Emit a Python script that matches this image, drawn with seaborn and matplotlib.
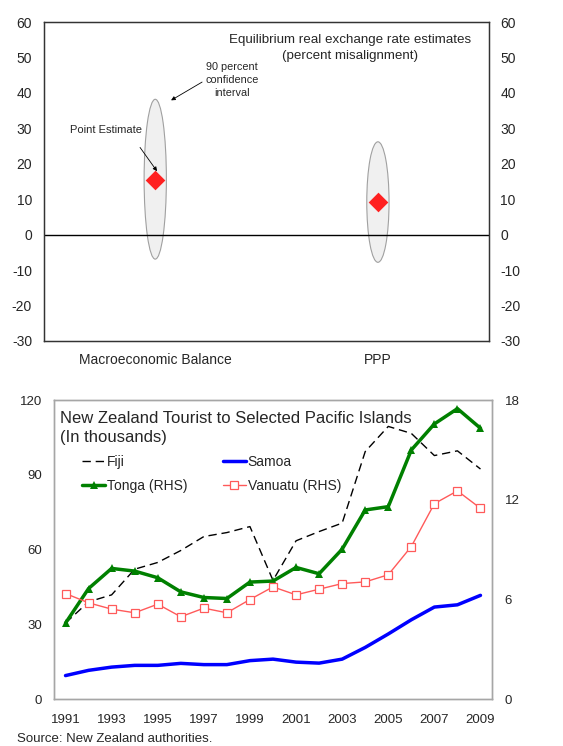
"""Equilibrium real exchange rate estimates and NZ tourist arrivals."""

import matplotlib

matplotlib.use("Agg")
import matplotlib.pyplot as plt
from matplotlib.patches import Ellipse
import pandas as pd
import seaborn as sns


# top panel: misalignment estimates
METHODS = ["Macroeconomic Balance", "PPP"]
POINT_EST = [15.4, 9.3]
CI_LOW = [-6.9, -7.8]
CI_HIGH = [38.2, 26.2]

# bottom panel: tourist arrivals (thousands)
YEARS = list(range(1991, 2010))
FIJI = [30.5, 39.0, 41.8, 52.1, 54.8, 59.6, 65.2, 66.8, 69.2, 47.6,
        63.5, 67.2, 70.6, 99.3, 109.4, 106.6, 97.7, 99.6, 92.3]
SAMOA = [9.4, 11.5, 12.8, 13.5, 13.5, 14.3, 13.8, 13.8, 15.4, 16.0,
         14.8, 14.4, 16.0, 20.7, 26.1, 31.8, 36.9, 37.8, 41.6]
TONGA = [4.57, 6.65, 7.86, 7.70, 7.30, 6.45, 6.11, 6.05, 7.04, 7.10,
         7.92, 7.54, 9.02, 11.38, 11.58, 14.99, 16.56, 17.48, 16.30]
VANUATU = [6.35, 5.79, 5.41, 5.19, 5.71, 4.95, 5.47, 5.19, 5.99, 6.75,
           6.27, 6.61, 6.95, 7.05, 7.48, 9.18, 11.76, 12.53, 11.48]
TOP_TICKS = list(range(-30, 61, 10))
LEFT_TICKS = [0, 30, 60, 90, 120]
RIGHT_TICKS = [0, 6, 12, 18]
YEAR_TICKS = list(range(1991, 2010, 2))

sns.set_style("white")
plt.rcParams["font.family"] = ["Liberation Sans", "DejaVu Sans"]
plt.rcParams["axes.unicode_minus"] = False

fig = plt.figure(figsize=(5.63, 7.46), dpi=100)

# ---------------- top panel ----------------
ax1 = fig.add_axes([0.078, 0.5429, 0.791, 0.4276])
est = pd.DataFrame({"method": METHODS, "est": POINT_EST})
for i, (lo, hi) in enumerate(zip(CI_LOW, CI_HIGH)):
    ax1.add_patch(Ellipse((i, (lo + hi) / 2), 0.1, hi - lo, facecolor="#f0f0f0",
                          edgecolor="#a0a0a0", lw=0.8, zorder=1))
sns.stripplot(data=est, x="method", y="est", jitter=False, marker="D", size=10,
              color="#ff2020", linewidth=0, ax=ax1, zorder=3)
ax1.axhline(0, color="black", lw=1, zorder=2)
ax1.set_xlim(-0.5, 1.5)
ax1.set_ylim(-30, 60)
ax1.set_yticks(TOP_TICKS)
ax1.set_xlabel("")
ax1.set_ylabel("")
ax1.tick_params(axis="both", length=0, labelsize=10)
ax1.tick_params(axis="y", pad=8.5)
ax1.tick_params(axis="x", pad=9)
for s in ax1.spines.values():
    s.set_color("#333333")
    s.set_linewidth(1)
ax1r = ax1.twinx()
ax1r.set_ylim(-30, 60)
ax1r.set_yticks(TOP_TICKS)
ax1r.tick_params(axis="y", length=0, labelsize=10, pad=8)
for s in ax1r.spines.values():
    s.set_color("#333333")

ax1.text(0.688, 0.963, "Equilibrium real exchange rate estimates\n(percent misalignment)",
         transform=ax1.transAxes, ha="center", va="top", fontsize=9.6, linespacing=1.45)
ax1.annotate("90 percent\nconfidence\ninterval", xy=(0.071, 37.9), xytext=(0.345, 43.6),
             ha="center", va="center", fontsize=7.8, linespacing=1.38,
             arrowprops=dict(arrowstyle="-|>", color="black", lw=0.6, mutation_scale=6,
                             shrinkA=0, shrinkB=0, relpos=(0, 0.5)))
ax1.annotate("Point Estimate", xy=(0.008, 17.9), xytext=(-0.221, 29.5),
             ha="center", va="center", fontsize=8,
             arrowprops=dict(arrowstyle="-|>", color="black", lw=0.6, mutation_scale=6,
                             shrinkA=8, shrinkB=0, relpos=(0.85, 0)))

# ---------------- bottom panel ----------------
ax2 = fig.add_axes([0.0959, 0.063, 0.778, 0.4008])
sns.lineplot(x=YEARS, y=FIJI, ax=ax2, color="black", lw=1, linestyle="--")
fiji_line = ax2.lines[-1]
fiji_line.set_dashes([6, 3.5])
sns.lineplot(x=YEARS, y=SAMOA, ax=ax2, color="#0000ff", lw=2.5)
samoa_line = ax2.lines[-1]
ax2.set_xlim(1990.5, 2009.5)
ax2.set_ylim(0, 120)
ax2.set_yticks(LEFT_TICKS)
ax2.set_xticks(YEAR_TICKS)
ax2.set_xlabel("")
ax2.set_ylabel("")
ax2.tick_params(axis="both", length=0, labelsize=9.5)
ax2.tick_params(axis="y", pad=8.5)
ax2.tick_params(axis="x", pad=11)

ax2r = ax2.twinx()
sns.lineplot(x=YEARS, y=TONGA, ax=ax2r, color="#008000", lw=2.5, marker="^",
             markersize=5.5, markeredgewidth=0)
tonga_line = ax2r.lines[-1]
sns.lineplot(x=YEARS, y=VANUATU, ax=ax2r, color="#ff5a5a", lw=1, marker="s",
             markersize=5.5, markerfacecolor="white", markeredgecolor="#ff5a5a",
             markeredgewidth=0.9)
vanuatu_line = ax2r.lines[-1]
ax2r.set_ylim(0, 18)
ax2r.set_yticks(RIGHT_TICKS)
ax2r.set_ylabel("")
ax2r.tick_params(axis="y", length=0, labelsize=9.5, pad=9)
for a in (ax2, ax2r):
    for s in a.spines.values():
        s.set_color("#a6a6a6")
        s.set_linewidth(1)

ax2r.text(0.014, 0.962, "New Zealand Tourist to Selected Pacific Islands\n(In thousands)",
          transform=ax2.transAxes, ha="left", va="top", fontsize=12, linespacing=1.3)
ax2r.legend([fiji_line, tonga_line, samoa_line, vanuatu_line],
            ["Fiji", "Tonga (RHS)", "Samoa", "Vanuatu (RHS)"],
            ncol=2, frameon=False, loc="upper left", bbox_to_anchor=(0.065, 0.815),
            fontsize=10, handlelength=1.6, handletextpad=0.15, columnspacing=2.6,
            labelspacing=0.7, borderpad=0, borderaxespad=0)

fig.text(0.03, 0.002, "Source: New Zealand authorities.", fontsize=9.5, ha="left", va="bottom")

fig.savefig("out.png", dpi=100)
